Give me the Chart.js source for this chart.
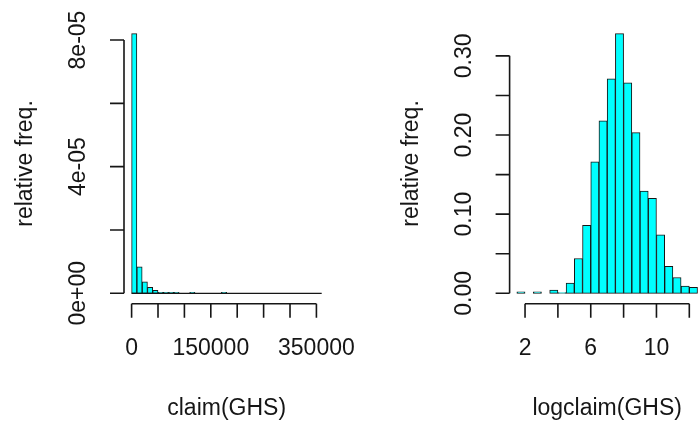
<!DOCTYPE html>
<html>
<head>
<meta charset="utf-8">
<script src="https://cdn.jsdelivr.net/npm/chart.js@4"></script>
<style>
    html, body { margin: 0; padding: 0; background: #ffffff; }
    #wrap { position: relative; width: 699px; height: 423px; overflow: hidden; }
    #claimChart { position: absolute; left: 0; top: 0; }
    #logChart { position: absolute; left: 350px; top: 0; }
</style>
</head>
<body>
<div id="wrap">
    <canvas id="claimChart" width="380" height="423"></canvas>
    <canvas id="logChart" width="349" height="423"></canvas>
</div>
<script>
"use strict";

// Left histogram: claim(GHS), breaks every 10000
const claimBinWidth = 10000;
const claimBinStarts = [
    0, 10000, 20000, 30000, 40000, 50000, 60000, 70000, 80000, 90000,
    100000, 110000, 120000, 130000, 140000, 150000, 160000, 170000, 180000, 190000,
    200000, 210000, 220000, 230000, 240000, 250000, 260000, 270000, 280000, 290000,
    300000, 310000, 320000, 330000, 340000, 350000
];
const claimDensity = [
    8.2e-5, 8.4e-6, 3.66e-6, 1.9e-6, 9.5e-7, 3e-7, 3e-7, 3e-7, 3e-7, 0,
    0, 3e-7, 0, 0, 0, 0, 0, 3e-7, 0, 0,
    0, 0, 0, 0, 0, 0, 0, 0, 0, 0,
    0, 0, 0, 0, 0, 0
];
const claimXTicks = [0, 50000, 100000, 150000, 200000, 250000, 300000, 350000];
const claimXLabels = ["0", "", "", "150000", "", "", "", "350000"];
const claimYTicks = [0, 2e-5, 4e-5, 6e-5, 8e-5];
const claimYLabels = ["0e+00", "", "4e-05", "", "8e-05"];

// Right histogram: logclaim(GHS), breaks every 0.5
const logBinWidth = 0.5;
const logBinStarts = [
    1.5, 2.0, 2.5, 3.0, 3.5, 4.0, 4.5, 5.0, 5.5, 6.0, 6.5,
    7.0, 7.5, 8.0, 8.5, 9.0, 9.5, 10.0, 10.5, 11.0, 11.5, 12.0
];
const logDensity = [
    0.002, 0, 0.002, 0, 0.004, 0.001, 0.013, 0.044, 0.086, 0.166, 0.218,
    0.271, 0.328, 0.266, 0.203, 0.129, 0.120, 0.074, 0.034, 0.020, 0.009, 0.0076
];
const logXTicks = [2, 4, 6, 8, 10, 12];
const logXLabels = ["2", "", "6", "", "10", ""];
const logYTicks = [0, 0.05, 0.10, 0.15, 0.20, 0.25, 0.30];
const logYLabels = ["0.00", "", "0.10", "", "0.20", "", "0.30"];

const FONT = '23px "Liberation Sans", Arial, sans-serif';
const INK = "#161616";

// R style axes: line only between first and last tick, ticks pointing outwards
const rAxes = {
    id: 'rAxes',
    afterDatasetsDraw(chart, args, o) {
        const { ctx, chartArea: area, scales: { x, y } } = chart;
        ctx.save();
        ctx.strokeStyle = INK;
        ctx.lineWidth = 1.3;

        // zero-height bins still show as a line along the base
        if (o.baseline) {
            const y0 = y.getPixelForValue(0);
            ctx.beginPath();
            ctx.moveTo(x.getPixelForValue(o.binFrom), y0);
            ctx.lineTo(x.getPixelForValue(o.binTo), y0);
            ctx.stroke();
        }

        ctx.lineWidth = 1.6;
        ctx.fillStyle = INK;
        ctx.font = FONT;
        ctx.textAlign = "center";
        ctx.textBaseline = "middle";

        // x axis
        const xs = o.xTicks.map(v => x.getPixelForValue(v));
        const bottom = area.bottom;
        ctx.beginPath();
        ctx.moveTo(xs[0], bottom);
        ctx.lineTo(xs[xs.length - 1], bottom);
        xs.forEach(px => {
            ctx.moveTo(px, bottom);
            ctx.lineTo(px, bottom + 14);
        });
        ctx.stroke();
        xs.forEach((px, i) => {
            if (o.xLabels[i]) ctx.fillText(o.xLabels[i], px, bottom + 45);
        });
        ctx.fillText(o.xTitle, x.getPixelForValue((o.binFrom + o.binTo) / 2), bottom + 105);

        // y axis
        const ys = o.yTicks.map(v => y.getPixelForValue(v));
        const left = area.left;
        ctx.beginPath();
        ctx.moveTo(left, ys[0]);
        ctx.lineTo(left, ys[ys.length - 1]);
        ys.forEach(py => {
            ctx.moveTo(left, py);
            ctx.lineTo(left - 14, py);
        });
        ctx.stroke();
        ys.forEach((py, i) => {
            if (!o.yLabels[i]) return;
            ctx.save();
            ctx.translate(left - 45, py);
            ctx.rotate(-Math.PI / 2);
            ctx.fillText(o.yLabels[i], 0, 0);
            ctx.restore();
        });
        ctx.save();
        ctx.translate(left - 98, (area.top + area.bottom) / 2);
        ctx.rotate(-Math.PI / 2);
        ctx.fillText("relative freq.", 0, 0);
        ctx.restore();

        ctx.restore();
    }
};

function CreateHistogram(canvasId, binStarts, binWidth, density, axes, xMax, padding) {
    let points = binStarts.map((b, i) => ({ x: b + binWidth / 2, y: density[i] }));
    let binFrom = binStarts[0];
    let binTo = binStarts[binStarts.length - 1] + binWidth;
    let topValue = Math.max(...density);
    let span = binTo - binFrom;

    new Chart(document.getElementById(canvasId), {
        type: 'bar',
        data: {
            datasets: [{
                data: points,
                backgroundColor: "#00ffff",
                borderColor: INK,
                borderWidth: 1,
                borderSkipped: false,
                barPercentage: 1,
                categoryPercentage: 1
            }]
        },
        options: {
            responsive: false,
            animation: false,
            devicePixelRatio: 1,
            layout: { padding: padding },
            plugins: {
                legend: { display: false },
                tooltip: { enabled: false },
                rAxes: Object.assign({ binFrom: binFrom, binTo: binTo }, axes)
            },
            scales: {
                x: {
                    type: 'linear',
                    display: false,
                    offset: false,
                    min: binFrom - 0.04 * span,
                    max: xMax !== null ? xMax : binTo + 0.04 * span,
                    afterBuildTicks: scale => { scale.ticks = axes.xTicks.map(v => ({ value: v })); }
                },
                y: {
                    display: false,
                    min: -0.04 * topValue,
                    max: 1.04 * topValue
                }
            }
        },
        plugins: [rAxes]
    });
}

CreateHistogram("claimChart", claimBinStarts, claimBinWidth, claimDensity, {
    xTicks: claimXTicks, xLabels: claimXLabels,
    yTicks: claimYTicks, yLabels: claimYLabels,
    xTitle: "claim(GHS)", baseline: true
}, null, { left: 124, right: 50.7, top: 23.3, bottom: 119.3 });

CreateHistogram("logChart", logBinStarts, logBinWidth, logDensity, {
    xTicks: logXTicks, xLabels: logXLabels,
    yTicks: logYTicks, yLabels: logYLabels,
    xTitle: "logclaim(GHS)", baseline: false
}, 12.59, { left: 159.6, right: 0, top: 23.3, bottom: 119.3 });
</script>
</body>
</html>
